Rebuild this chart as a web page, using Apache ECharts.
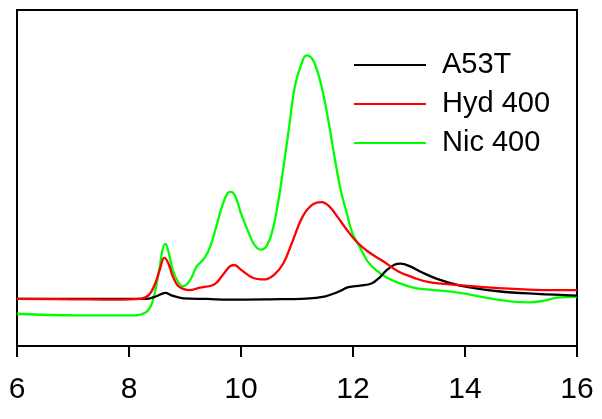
<!DOCTYPE html>
<html>
<head>
<meta charset="utf-8">
<style>html,body{margin:0;padding:0;background:#fff}#c{width:602px;height:419px}</style>
<script src="https://cdn.jsdelivr.net/npm/echarts@6/dist/echarts.min.js"></script>
</head>
<body>
<div id="c"></div>
<script>
var xTicks = [6, 8, 10, 12, 14, 16];
var seriesNames = ['A53T', 'Hyd 400', 'Nic 400'];

var a53tX = [6, 7, 8, 8.29, 8.49, 8.65, 8.77, 8.97, 9.4, 9.8, 10.5, 11.17, 11.51, 11.72, 11.92, 12.13, 12.33, 12.47, 12.61, 12.74, 12.85, 13.02, 13.22, 13.5, 13.91, 14.6, 15.28, 16];
var a53tY = [14.0, 14.0, 14.0, 14.0, 14.8, 15.8, 15.0, 14.2, 14.0, 13.8, 13.9, 14.1, 14.8, 16.0, 17.5, 18.0, 18.6, 20.3, 22.7, 24.2, 24.5, 23.7, 22.0, 20.0, 18.0, 16.3, 15.5, 15.0];

var hydX = [6, 7, 7.74, 8.22, 8.36, 8.46, 8.55, 8.63, 8.7, 8.78, 8.87, 8.97, 9.08, 9.25, 9.52, 9.66, 9.8, 9.88, 10.0, 10.21, 10.41, 10.59, 10.76, 10.93, 11.1, 11.27, 11.44, 11.58, 11.72, 11.89, 12.06, 12.26, 12.54, 12.81, 13.09, 13.36, 13.91, 14.6, 15.28, 16];
var hydY = [14.0, 13.9, 13.8, 14.1, 15.3, 18.3, 22.7, 26.2, 24.7, 20.8, 18.0, 17.0, 16.6, 17.3, 18.3, 20.8, 23.7, 24.1, 22.7, 20.3, 19.8, 21.2, 24.7, 31.6, 38.5, 42.0, 42.8, 41.5, 38.5, 34.6, 31.1, 28.2, 25.2, 22.2, 20.3, 19.0, 18.1, 17.2, 16.7, 16.6];

var nicX = [6, 7.06, 8.08, 8.29, 8.39, 8.46, 8.55, 8.6, 8.65, 8.71, 8.78, 8.87, 8.96, 9.08, 9.21, 9.35, 9.45, 9.56, 9.66, 9.76, 9.82, 9.9, 10.0, 10.14, 10.24, 10.35, 10.45, 10.55, 10.65, 10.76, 10.86, 10.96, 11.07, 11.17, 11.27, 11.37, 11.48, 11.58, 11.68, 11.78, 11.89, 11.99, 12.13, 12.26, 12.44, 12.61, 12.81, 13.09, 13.36, 13.91, 14.39, 14.8, 15.14, 15.42, 15.62, 16];
var nicY = [9.6, 9.1, 9.1, 9.9, 11.9, 15.8, 23.7, 28.7, 30.4, 27.7, 22.7, 19.3, 17.8, 19.3, 23.7, 26.2, 29.6, 35.6, 41.5, 45.5, 45.9, 44.5, 39.5, 33.6, 30.1, 28.7, 29.6, 33.6, 41.5, 53.4, 65.2, 77.1, 83.5, 86.5, 85.5, 81.5, 74.1, 65.2, 55.3, 46.4, 39.5, 33.6, 29.2, 25.2, 22.2, 20.3, 18.8, 17.3, 16.8, 15.8, 14.3, 13.3, 13.0, 13.5, 14.3, 14.6];

function pairs(xs, ys) { return xs.map(function (x, i) { return [x, ys[i]]; }); }

var colors = ['#000000', '#ff0000', '#00ff00'];
var font = '"Liberation Sans", Arial, sans-serif';

var chart = echarts.init(document.getElementById('c'), null, { renderer: 'canvas' });
chart.setOption({
  animation: false,
  backgroundColor: '#ffffff',
  grid: { left: 17, right: 25, top: 10, bottom: 73, show: true, borderColor: '#000', borderWidth: 2, backgroundColor: 'transparent' },
  legend: {
    orient: 'vertical',
    left: 354,
    top: 50,
    padding: 0,
    itemWidth: 72,
    itemHeight: 2,
    itemGap: 9,
    icon: 'rect',
    data: seriesNames,
    textStyle: { fontSize: 29, fontFamily: font, color: '#000', lineHeight: 30, padding: [0, 0, 0, 11] }
  },
  xAxis: {
    type: 'value',
    min: xTicks[0],
    max: xTicks[xTicks.length - 1],
    interval: 2,
    axisLine: { show: true, lineStyle: { color: '#000', width: 2 } },
    axisTick: { show: true, inside: false, length: 11, lineStyle: { color: '#000', width: 2 } },
    axisLabel: { show: true, fontSize: 30, fontFamily: font, color: '#000', margin: 29, showMinLabel: true, showMaxLabel: true },
    splitLine: { show: false }
  },
  yAxis: {
    type: 'value',
    min: 0,
    max: 100,
    axisLine: { show: false },
    axisTick: { show: false },
    axisLabel: { show: false },
    splitLine: { show: false }
  },
  series: [
    { name: seriesNames[0], type: 'line', data: pairs(a53tX, a53tY), smooth: 0.4, showSymbol: false, symbol: 'none', color: colors[0], lineStyle: { width: 2.3, color: colors[0] }, z: 3 },
    { name: seriesNames[1], type: 'line', data: pairs(hydX, hydY), smooth: 0.4, showSymbol: false, symbol: 'none', color: colors[1], lineStyle: { width: 2.3, color: colors[1] }, z: 4 },
    { name: seriesNames[2], type: 'line', data: pairs(nicX, nicY), smooth: 0.4, showSymbol: false, symbol: 'none', color: colors[2], lineStyle: { width: 2.3, color: colors[2] }, z: 2 }
  ]
});
</script>
</body>
</html>
